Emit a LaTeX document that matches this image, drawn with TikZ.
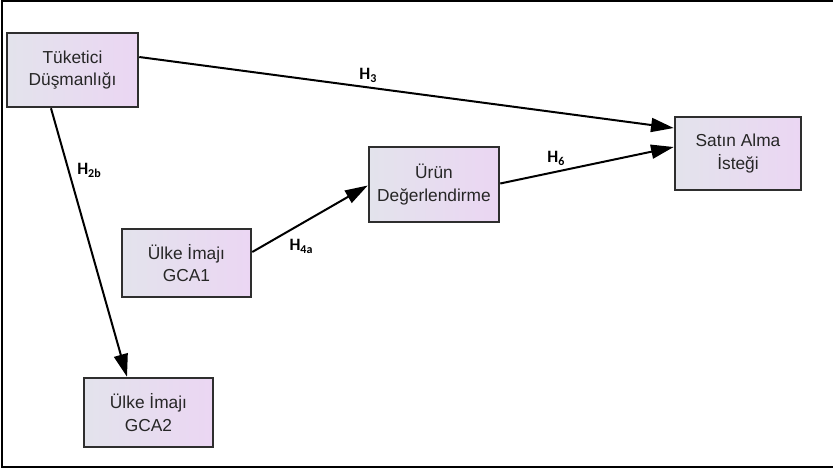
\documentclass[tikz,border=0pt]{standalone}
\usepackage{fontspec}
\setmainfont{Liberation Sans}
\newfontfamily\labfont{Carlito}
\usetikzlibrary{arrows.meta,calc}
\definecolor{boxleft}{HTML}{E3E3EC}
\definecolor{boxright}{HTML}{EBD6F3}
\definecolor{boxline}{HTML}{2E2E2E}
\tikzset{
  varbox/.style={draw=boxline, line width=1.9pt, left color=boxleft, right color=boxright,
    align=center, inner sep=0pt, font=\fontsize{13}{16.8}\selectfont, text=black!85},
  pathline/.style={line width=1.5pt, -{Triangle[length=17pt,width=10.5pt]}},
  hlab/.style={font=\labfont\bfseries\fontsize{13}{15}\selectfont, inner sep=0pt}
}
\newcommand{\hsub}[1]{H\raisebox{-0.35ex}{\fontsize{9}{10}\selectfont #1}}
\begin{document}
\begin{tikzpicture}[x=0.75pt,y=-0.75pt]
\useasboundingbox (0,0) rectangle (833,468);
\draw[line width=1.1pt] (834,1) -- (2,1) -- (2,467) -- (834,467);
\node[varbox, minimum width=131*0.75pt, minimum height=74*0.75pt] (T) at (72.5,70) {Tüketici\\Düşmanlığı};
\node[varbox, minimum width=129*0.75pt, minimum height=68*0.75pt] (G1) at (186.5,263) {Ülke İmajı\\GCA1};
\node[varbox, minimum width=130*0.75pt, minimum height=75*0.75pt] (U) at (434,184.5) {Ürün\\Değerlendirme};
\node[varbox, minimum width=126*0.75pt, minimum height=73*0.75pt] (S) at (738,153.5) {Satın Alma\\İsteği};
\node[varbox, minimum width=129*0.75pt, minimum height=69*0.75pt] (G2) at (148.5,412.5) {Ülke İmajı\\GCA2};
\draw[pathline] ($(T.east)+(0,-13)$) -- ($(S.west)+(0,-25.5)$);
\draw[pathline] ($(U.east)+(0,-1)$) -- ($(S.west)+(0,-6.5)$);
\draw[pathline] ($(G1.east)+(0,-11)$) -- ($(U.west)+(0,1)$);
\draw[pathline] ($(T.south)+(-21.5,0)$) -- ($(G2.north)+(-21.5,0)$);
\node[hlab] (h3) at (368,75) {\hsub{3}};
\node[hlab] (h6) at (556,158) {\hsub{6}};
\node[hlab] (h4a) at (301,246) {\hsub{4a}};
\node[hlab] (h2b) at (89,170) {\hsub{2b}};
\end{tikzpicture}
\end{document}
